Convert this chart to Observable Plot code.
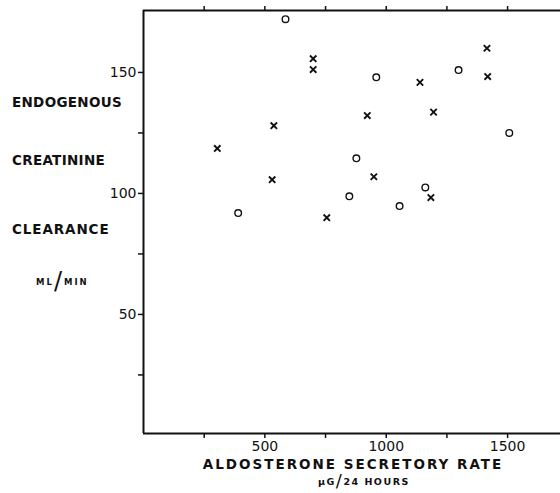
<!DOCTYPE html>
<html>
<head>
<meta charset="utf-8">
<script src="https://cdn.jsdelivr.net/npm/d3@7"></script>
<script src="https://cdn.jsdelivr.net/npm/@observablehq/plot@0.6"></script>
<style>
  html, body { margin: 0; padding: 0; background: #fff; }
  #chart { position: relative; width: 560px; height: 493px; overflow: hidden; }
</style>
</head>
<body>
<div id="chart"></div>
<script>
// Open circles
const circleX = [585, 959, 1298, 1507, 877, 848, 1161, 1055, 390];
const circleY = [172, 148, 151, 125, 114.5, 98.8, 102.5, 94.8, 91.9];
// Crosses
const crossX = [699, 699, 1139, 1415, 1418, 922, 1195, 949, 1184, 755, 537, 304, 530];
const crossY = [155.7, 151.2, 145.9, 160, 148.3, 132.2, 133.6, 106.9, 98.3, 90, 128, 118.6, 105.7];

const xTicksAll = [250, 500, 750, 1000, 1250, 1500];
const xLabeled = [500, 1000, 1500];
const yTicksAll = [25, 50, 75, 100, 125, 150];
const yLabeled = [50, 100, 150];
const xDomain = [0, 1718];
const yDomain = [0.8, 175.6];

const yLabelLines = ["ENDOGENOUS", "CREATININE", "CLEARANCE"];
const xLabelText = "ALDOSTERONE SECRETORY RATE";

const circles = circleX.map((x, i) => ({x, y: circleY[i]}));
const crosses = crossX.map((x, i) => ({x, y: crossY[i]}));

const plot = Plot.plot({
  width: 560,
  height: 493,
  marginLeft: 143,
  marginRight: 0,
  marginTop: 10,
  marginBottom: 60,
  style: {fontFamily: "'DejaVu Sans', sans-serif", fontSize: "14px", color: "#111", background: "#fff"},
  x: {domain: xDomain},
  y: {domain: yDomain},
  marks: [
    Plot.axisX({ticks: xTicksAll, tickSize: 5, tickPadding: 3, strokeWidth: 1.5,
      tickFormat: d => xLabeled.includes(d) ? String(d) : "", label: null}),
    Plot.axisX({anchor: "top", ticks: xTicksAll, tickSize: 5, strokeWidth: 1.5,
      tickFormat: () => "", label: null}),
    Plot.axisY({ticks: yTicksAll, tickSize: 5, tickPadding: 2, strokeWidth: 1.5,
      tickFormat: d => yLabeled.includes(d) ? String(d) : "", label: null}),
    Plot.ruleX([xDomain[0]], {stroke: "#111", strokeWidth: 2}),
    Plot.ruleY([yDomain[0]], {stroke: "#111", strokeWidth: 2}),
    Plot.ruleY([yDomain[1]], {stroke: "#111", strokeWidth: 2}),
    Plot.dot(circles, {x: "x", y: "y", r: 3.3, stroke: "#111", strokeWidth: 1.4, fill: "none"}),
    Plot.dot(crosses, {x: "x", y: "y", symbol: "times", r: 3, stroke: "#111", strokeWidth: 1.9})
  ]
});

document.getElementById("chart").appendChild(plot);

// Annotations (axis titles) added to the SVG
const svg = d3.select(plot);
const g = svg.append("g")
  .attr("font-family", "'DejaVu Sans', sans-serif")
  .attr("font-weight", "bold")
  .attr("text-anchor", "start")
  .attr("fill", "#111");

const yLabelPos = [102, 160, 229];
const yLabelSpacing = [0.3, 0.3, 0.9];
yLabelLines.forEach((t, i) => {
  g.append("text")
    .attr("x", 12).attr("y", yLabelPos[i])
    .attr("dy", "0.36em")
    .attr("text-anchor", "start")
    .attr("font-size", 13.5)
    .attr("letter-spacing", yLabelSpacing[i] + "px")
    .text(t);
});

// ML/MIN
const ml = g.append("text").attr("x", 36).attr("y", 285).attr("text-anchor", "start")
  .attr("font-size", 8.5).attr("letter-spacing", "2px");
ml.append("tspan").text("ML");
ml.append("tspan").attr("font-size", 24).attr("font-weight", "normal").attr("dy", 4).text("/");
ml.append("tspan").attr("dy", -4).text("MIN");

// x-axis title
g.append("text")
  .attr("x", 353).attr("y", 464)
  .attr("dy", "0.36em")
  .attr("text-anchor", "middle")
  .attr("font-size", 13.5)
  .attr("letter-spacing", "2px")
  .text(xLabelText);

const ug = g.append("text").attr("x", 318).attr("y", 485).attr("text-anchor", "start")
  .attr("font-size", 9.5).attr("letter-spacing", "1.5px");
ug.append("tspan").text("μG");
ug.append("tspan").attr("font-size", 18).attr("font-weight", "normal").attr("dy", 2).text("/");
ug.append("tspan").attr("dy", -2).text("24 HOURS");
</script>
</body>
</html>
